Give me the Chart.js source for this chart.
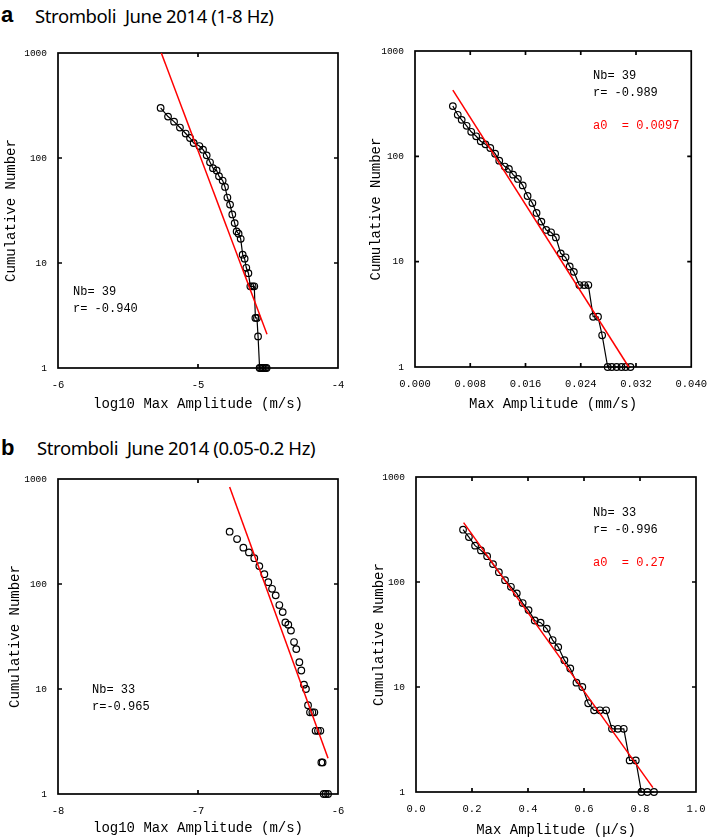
<!DOCTYPE html>
<html>
<head>
<meta charset="utf-8">
<title>Stromboli June 2014 cumulative amplitude</title>
<script src="https://cdn.jsdelivr.net/npm/chart.js"></script>
<style>
  body { margin: 0; background: #fff; }
  #page { position: relative; width: 710px; height: 840px; overflow: hidden; }
  .panel { position: absolute; }
  .tag { position: absolute; font: bold 22px "Liberation Sans", Arial, sans-serif; }
  .head { position: absolute; font: 18.5px "Noto Sans", "Open Sans", sans-serif; letter-spacing: -0.4px; white-space: pre; }
  .note { position: absolute; font: 12px "Liberation Mono", monospace; line-height: 17px; white-space: pre; }
  .red { color: #ff0000; }
</style>
</head>
<body>
<div id="page">
  <div class="tag" style="left:1px; top:2px;">a</div>
  <div class="head" style="left:35px; top:3px;">Stromboli  June 2014 (1-8 Hz)</div>
  <div class="tag" style="left:1px; top:435px;">b</div>
  <div class="head" style="left:37px; top:435px;">Stromboli  June 2014 (0.05-0.2 Hz)</div>

  <canvas class="panel" id="cA" width="355" height="420" style="left:0; top:0;"></canvas>
  <canvas class="panel" id="cB" width="355" height="420" style="left:355px; top:0;"></canvas>
  <canvas class="panel" id="cC" width="355" height="420" style="left:0; top:420px;"></canvas>
  <canvas class="panel" id="cD" width="355" height="420" style="left:355px; top:420px;"></canvas>

  <div class="note" style="left:73px; top:284px;">Nb= 39
r= -0.940</div>
  <div class="note" style="left:593px; top:68px;">Nb= 39
r= -0.989</div>
  <div class="note red" style="left:593px; top:118px;">a0  = 0.0097</div>
  <div class="note" style="left:92px; top:682px;">Nb= 33
r=-0.965</div>
  <div class="note" style="left:593px; top:505px;">Nb= 33
r= -0.996</div>
  <div class="note red" style="left:593px; top:555px;">a0  = 0.27</div>
</div>

<script>
  // cumulative number of events (shared by both panels of a row)
  var cumHF = [300, 248, 222, 195, 171, 155, 139, 130, 120, 106, 91, 80, 76, 67, 61, 53, 42, 36, 29, 24,
               20, 19, 17, 12, 11, 9, 8, 6, 6, 6, 3, 3, 2, 1, 1, 1, 1, 1, 1];
  var cumLF = [315, 268, 222, 200, 176, 148, 124, 104, 90, 78, 63, 54, 43, 41, 36, 28, 24, 18, 15, 11,
               10, 7, 6, 6, 6, 4, 4, 4, 2, 2, 1, 1, 1];

  // (a) 1-8 Hz
  var logAmpHF = [-5.267, -5.214, -5.171, -5.129, -5.088, -5.057, -5.031, -4.990, -4.964, -4.938,
                  -4.914, -4.893, -4.867, -4.850, -4.824, -4.807, -4.790, -4.771, -4.755, -4.738,
                  -4.724, -4.710, -4.695, -4.681, -4.667, -4.655, -4.640, -4.626, -4.610, -4.598,
                  -4.590, -4.579, -4.571, -4.560, -4.550, -4.540, -4.530, -4.520, -4.510];
  var ampHF = [0.00548, 0.00619, 0.00676, 0.00748, 0.00814, 0.00886, 0.00952, 0.0102, 0.0109, 0.0116,
               0.0122, 0.0130, 0.0136, 0.0142, 0.0149, 0.0156, 0.0163, 0.0170, 0.0176, 0.0183,
               0.0190, 0.0197, 0.0204, 0.0211, 0.0218, 0.0224, 0.0230, 0.0238, 0.0245, 0.0251,
               0.0258, 0.0265, 0.0271, 0.0279, 0.0285, 0.0292, 0.0299, 0.0305, 0.0312];

  // (b) 0.05-0.2 Hz
  var logAmpLF = [-6.774, -6.721, -6.676, -6.636, -6.598, -6.562, -6.526, -6.498, -6.471, -6.445,
                  -6.419, -6.395, -6.376, -6.355, -6.336, -6.314, -6.298, -6.276, -6.262, -6.243,
                  -6.229, -6.214, -6.200, -6.183, -6.169, -6.160, -6.143, -6.126, -6.119, -6.110,
                  -6.102, -6.088, -6.071];
  var ampLF = [0.168, 0.189, 0.211, 0.232, 0.254, 0.275, 0.296, 0.318, 0.339, 0.360,
               0.381, 0.402, 0.424, 0.445, 0.467, 0.488, 0.508, 0.530, 0.551, 0.573,
               0.594, 0.615, 0.636, 0.657, 0.679, 0.700, 0.721, 0.742, 0.763, 0.785,
               0.805, 0.826, 0.850];

  // fitted lines (end points)
  var fitA = { x: [-5.262, -4.507], y: [1000, 2.1] };
  var fitB = { x: [0.00548, 0.03095], y: [426, 1] };
  var fitC = { x: [-6.774, -6.071], y: [838, 2.19] };
  var fitD = { x: [0.170, 0.846], y: [368, 1.1] };

  // axis ticks
  var yTicks = [1, 10, 100, 1000];
  var xTicksA = [-6, -5, -4];
  var xTicksB = [0, 0.008, 0.016, 0.024, 0.032, 0.040];
  var xLabelsB = ['0.000', '0.008', '0.016', '0.024', '0.032', '0.040'];
  var xTicksC = [-8, -7, -6];
  var xTicksD = [0, 0.2, 0.4, 0.6, 0.8, 1.0];
  var xLabelsD = ['0.0', '0.2', '0.4', '0.6', '0.8', '1.0'];

  function pairs(xs, ys) {
    return xs.map(function (v, i) { return { x: v, y: ys[i] }; });
  }

  // box round the plot and inward tick marks on all four sides
  var frameTicks = {
    id: 'frameTicks',
    beforeDatasetsDraw: function (chart) {
      var ctx = chart.ctx, a = chart.chartArea;
      var sx = chart.scales.x, sy = chart.scales.y;
      ctx.save();
      ctx.strokeStyle = '#000';
      ctx.lineWidth = 1.7;
      ctx.strokeRect(a.left, a.top, a.right - a.left, a.bottom - a.top);
      ctx.beginPath();
      sx.ticks.forEach(function (t) {
        var px = sx.getPixelForValue(t.value);
        if (px > a.left + 2 && px < a.right - 2) {
          ctx.moveTo(px, a.bottom); ctx.lineTo(px, a.bottom - 4);
          ctx.moveTo(px, a.top); ctx.lineTo(px, a.top + 4);
        }
      });
      sy.ticks.forEach(function (t) {
        var py = sy.getPixelForValue(t.value);
        if (py > a.top + 2 && py < a.bottom - 2) {
          ctx.moveTo(a.left, py); ctx.lineTo(a.left + 4, py);
          ctx.moveTo(a.right, py); ctx.lineTo(a.right - 4, py);
        }
      });
      ctx.stroke();
      ctx.restore();
    }
  };

  function makePanel(id, cfg) {
    var xTickFont = { family: 'Liberation Mono', size: 10.5 };
    var yTickFont = { family: 'Liberation Mono', size: 9.5 };
    var titleFont = { family: 'Liberation Mono', size: 14 };
    var box = cfg.box; // [left, top, right, bottom] of the plot area inside the canvas
    var W = 355, H = 420;
    var datasets = [{
      data: pairs(cfg.fit.x, cfg.fit.y),
      showLine: true,
      borderColor: '#ff0000',
      borderWidth: 1.5,
      pointRadius: 0,
      clip: false
    }, {
      data: pairs(cfg.xs, cfg.ys),
      showLine: cfg.line,
      borderColor: '#000',
      borderWidth: 1.2,
      pointRadius: 3.3,
      pointBorderWidth: 1.2,
      pointBorderColor: '#000',
      pointBackgroundColor: 'rgba(0,0,0,0)',
      clip: false
    }];

    return new Chart(document.getElementById(id), {
      type: 'scatter',
      data: { datasets: datasets },
      options: {
        responsive: false,
        animation: false,
        layout: { padding: { left: 0, top: box[1], right: W - box[2], bottom: 0 } },
        plugins: { legend: { display: false }, tooltip: { enabled: false } },
        scales: {
          x: {
            type: 'linear',
            min: cfg.xTicks[0],
            max: cfg.xTicks[cfg.xTicks.length - 1],
            afterBuildTicks: function (s) { s.ticks = cfg.xTicks.map(function (v) { return { value: v }; }); },
            afterFit: function (s) { s.height = H - box[3]; },
            grid: { display: false },
            border: { display: false },
            ticks: {
              font: xTickFont, color: '#000', padding: 3, maxRotation: 0, autoSkip: false,
              callback: function (v, i) { return cfg.xLabels ? cfg.xLabels[i] : String(v); }
            },
            title: { display: true, text: cfg.xTitle, font: titleFont, color: '#000',
                     padding: { top: 0, bottom: cfg.xTitlePad } }
          },
          y: {
            type: 'logarithmic',
            min: 1,
            max: 1000,
            afterBuildTicks: function (s) { s.ticks = yTicks.map(function (v) { return { value: v }; }); },
            afterFit: function (s) { s.width = box[0]; },
            grid: { display: false },
            border: { display: false },
            ticks: {
              font: yTickFont, color: '#000', padding: 3, autoSkip: false,
              callback: function (v) { return String(v); }
            },
            title: { display: true, text: 'Cumulative Number', font: titleFont, color: '#000',
                     padding: { top: cfg.yTitlePad, bottom: 0 } }
          }
        }
      },
      plugins: [frameTicks]
    });
  }

  makePanel('cA', {
    xs: logAmpHF, ys: cumHF, fit: fitA, line: true,
    xTicks: xTicksA, xTitle: 'log10 Max Amplitude (m/s)',
    box: [58, 53, 338, 368], xTitlePad: 7, yTitlePad: 3
  });
  makePanel('cB', {
    xs: ampHF, ys: cumHF, fit: fitB, line: true,
    xTicks: xTicksB, xLabels: xLabelsB, xTitle: 'Max Amplitude (mm/s)',
    box: [60, 51, 340, 367], xTitlePad: 7, yTitlePad: 13
  });
  makePanel('cC', {
    xs: logAmpLF, ys: cumLF, fit: fitC, line: false,
    xTicks: xTicksC, xTitle: 'log10 Max Amplitude (m/s)',
    box: [58, 59, 338, 374], xTitlePad: 3, yTitlePad: 7
  });
  makePanel('cD', {
    xs: ampLF, ys: cumLF, fit: fitD, line: true,
    xTicks: xTicksD, xLabels: xLabelsD, xTitle: 'Max Amplitude (\u03bc/s)',
    box: [61, 57, 341, 372], xTitlePad: 1, yTitlePad: 16
  });
</script>
</body>
</html>
